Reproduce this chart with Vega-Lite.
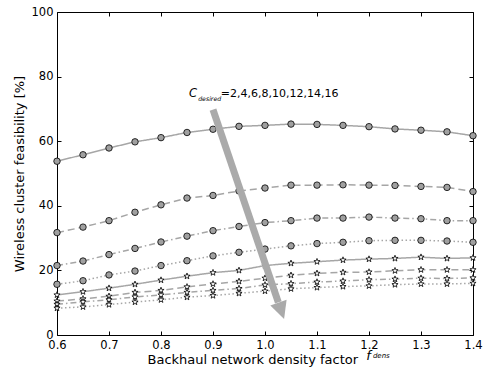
{
  "$schema": "https://vega.github.io/schema/vega-lite/v6.json",
  "width": 416,
  "height": 323,
  "autosize": "none",
  "padding": {"left": 57, "top": 12, "right": 13, "bottom": 34},
  "background": "white",
  "config": {
    "view": {"stroke": null},
    "axis": {
      "domainColor": "#000", "tickColor": "#000", "labelColor": "#000", "titleColor": "#000",
      "labelFont": "DejaVu Sans", "titleFont": "DejaVu Sans", "titleFontWeight": "normal",
      "labelFontSize": 11.5, "titleFontSize": 13, "grid": false, "tickSize": -4, "labelPadding": 8,
      "labelFlush": false, "labelOverlap": false, "labelBound": false
    },
    "text": {"font": "DejaVu Sans", "color": "#000"}
  },
  "datasets": {
    "series": [
      {"x":0.6,"C":2,"y":53.8},{"x":0.65,"C":2,"y":55.8},{"x":0.7,"C":2,"y":57.9},{"x":0.75,"C":2,"y":59.8},{"x":0.8,"C":2,"y":61.1},{"x":0.85,"C":2,"y":62.7},{"x":0.9,"C":2,"y":63.7},{"x":0.95,"C":2,"y":64.6},{"x":1.0,"C":2,"y":64.9},{"x":1.05,"C":2,"y":65.3},{"x":1.1,"C":2,"y":65.2},{"x":1.15,"C":2,"y":64.9},{"x":1.2,"C":2,"y":64.5},{"x":1.25,"C":2,"y":63.8},{"x":1.3,"C":2,"y":63.4},{"x":1.35,"C":2,"y":62.9},{"x":1.4,"C":2,"y":61.7},
      {"x":0.6,"C":4,"y":31.7},{"x":0.65,"C":4,"y":33.4},{"x":0.7,"C":4,"y":35.4},{"x":0.75,"C":4,"y":38.0},{"x":0.8,"C":4,"y":40.3},{"x":0.85,"C":4,"y":42.4},{"x":0.9,"C":4,"y":43.2},{"x":0.95,"C":4,"y":44.6},{"x":1.0,"C":4,"y":45.5},{"x":1.05,"C":4,"y":46.4},{"x":1.1,"C":4,"y":46.4},{"x":1.15,"C":4,"y":46.5},{"x":1.2,"C":4,"y":46.4},{"x":1.25,"C":4,"y":46.3},{"x":1.3,"C":4,"y":46.0},{"x":1.35,"C":4,"y":45.7},{"x":1.4,"C":4,"y":44.4},
      {"x":0.6,"C":6,"y":21.5},{"x":0.65,"C":6,"y":22.9},{"x":0.7,"C":6,"y":24.9},{"x":0.75,"C":6,"y":26.8},{"x":0.8,"C":6,"y":28.8},{"x":0.85,"C":6,"y":30.6},{"x":0.9,"C":6,"y":32.3},{"x":0.95,"C":6,"y":33.6},{"x":1.0,"C":6,"y":34.8},{"x":1.05,"C":6,"y":35.4},{"x":1.1,"C":6,"y":36.2},{"x":1.15,"C":6,"y":36.2},{"x":1.2,"C":6,"y":36.5},{"x":1.25,"C":6,"y":36.2},{"x":1.3,"C":6,"y":36.0},{"x":1.35,"C":6,"y":35.4},{"x":1.4,"C":6,"y":35.4},
      {"x":0.6,"C":8,"y":15.7},{"x":0.65,"C":8,"y":16.8},{"x":0.7,"C":8,"y":18.6},{"x":0.75,"C":8,"y":19.8},{"x":0.8,"C":8,"y":21.5},{"x":0.85,"C":8,"y":23.0},{"x":0.9,"C":8,"y":24.5},{"x":0.95,"C":8,"y":25.6},{"x":1.0,"C":8,"y":26.6},{"x":1.05,"C":8,"y":27.6},{"x":1.1,"C":8,"y":28.3},{"x":1.15,"C":8,"y":28.7},{"x":1.2,"C":8,"y":29.2},{"x":1.25,"C":8,"y":29.3},{"x":1.3,"C":8,"y":29.3},{"x":1.35,"C":8,"y":29.1},{"x":1.4,"C":8,"y":28.7},
      {"x":0.6,"C":10,"y":12.4},{"x":0.65,"C":10,"y":13.4},{"x":0.7,"C":10,"y":14.5},{"x":0.75,"C":10,"y":15.7},{"x":0.8,"C":10,"y":17.0},{"x":0.85,"C":10,"y":18.2},{"x":0.9,"C":10,"y":19.3},{"x":0.95,"C":10,"y":20.0},{"x":1.0,"C":10,"y":21.5},{"x":1.05,"C":10,"y":22.2},{"x":1.1,"C":10,"y":22.7},{"x":1.15,"C":10,"y":23.2},{"x":1.2,"C":10,"y":23.5},{"x":1.25,"C":10,"y":23.7},{"x":1.3,"C":10,"y":24.1},{"x":1.35,"C":10,"y":23.7},{"x":1.4,"C":10,"y":23.9},
      {"x":0.6,"C":12,"y":10.5},{"x":0.65,"C":12,"y":11.2},{"x":0.7,"C":12,"y":12.0},{"x":0.75,"C":12,"y":13.2},{"x":0.8,"C":12,"y":13.8},{"x":0.85,"C":12,"y":14.9},{"x":0.9,"C":12,"y":15.8},{"x":0.95,"C":12,"y":16.6},{"x":1.0,"C":12,"y":17.6},{"x":1.05,"C":12,"y":18.5},{"x":1.1,"C":12,"y":19.1},{"x":1.15,"C":12,"y":19.4},{"x":1.2,"C":12,"y":19.5},{"x":1.25,"C":12,"y":19.9},{"x":1.3,"C":12,"y":20.2},{"x":1.35,"C":12,"y":20.2},{"x":1.4,"C":12,"y":20.2},
      {"x":0.6,"C":14,"y":9.5},{"x":0.65,"C":14,"y":10.3},{"x":0.7,"C":14,"y":10.9},{"x":0.75,"C":14,"y":11.8},{"x":0.8,"C":14,"y":12.4},{"x":0.85,"C":14,"y":13.2},{"x":0.9,"C":14,"y":13.8},{"x":0.95,"C":14,"y":14.4},{"x":1.0,"C":14,"y":15.5},{"x":1.05,"C":14,"y":15.9},{"x":1.1,"C":14,"y":16.4},{"x":1.15,"C":14,"y":16.7},{"x":1.2,"C":14,"y":17.1},{"x":1.25,"C":14,"y":17.3},{"x":1.3,"C":14,"y":17.6},{"x":1.35,"C":14,"y":17.5},{"x":1.4,"C":14,"y":17.7},
      {"x":0.6,"C":16,"y":8.3},{"x":0.65,"C":16,"y":8.7},{"x":0.7,"C":16,"y":9.4},{"x":0.75,"C":16,"y":10.2},{"x":0.8,"C":16,"y":10.9},{"x":0.85,"C":16,"y":11.7},{"x":0.9,"C":16,"y":12.2},{"x":0.95,"C":16,"y":12.9},{"x":1.0,"C":16,"y":13.6},{"x":1.05,"C":16,"y":14.3},{"x":1.1,"C":16,"y":14.7},{"x":1.15,"C":16,"y":15.0},{"x":1.2,"C":16,"y":15.2},{"x":1.25,"C":16,"y":15.6},{"x":1.3,"C":16,"y":15.8},{"x":1.35,"C":16,"y":15.8},{"x":1.4,"C":16,"y":16.0}
    ]
  },
  "resolve": {"axis": {"x": "independent", "y": "independent"}},
  "layer": [
    {
      "data": {"name": "series"},
      "mark": {"type": "line", "color": "#a6a6a6", "strokeWidth": 1.5},
      "encoding": {
        "x": {"field": "x", "type": "quantitative", "scale": {"domain": [0.6, 1.4], "nice": false, "zero": false},
              "axis": {"values": [0.6,0.7,0.8,0.9,1.0,1.1,1.2,1.3,1.4], "format": ".1f", "title": "Backhaul network density factor", "titleAnchor": "start", "titleAlign": "left", "titleX": 90, "titlePadding": 3}},
        "y": {"field": "y", "type": "quantitative", "scale": {"domain": [0, 100], "nice": false, "zero": false},
              "axis": {"values": [0,20,40,60,80,100], "title": "Wireless cluster feasibility [%]", "titlePadding": 5}},
        "detail": {"field": "C", "type": "nominal"},
        "strokeDash": {"field": "C", "type": "nominal", "legend": null,
          "scale": {"domain": [2,4,6,8,10,12,14,16], "range": [[1,0],[7,4],[6,3,1.5,3],[1.5,2.5],[1,0],[7,4],[6,3,1.5,3],[1.5,2.5]]}}
      }
    },
    {
      "data": {"name": "series"},
      "mark": {"type": "point", "filled": true, "stroke": "#000", "opacity": 1},
      "encoding": {
        "x": {"field": "x", "type": "quantitative", "scale": {"domain": [0.6, 1.4], "nice": false, "zero": false}, "axis": {"orient": "top", "labels": false, "title": null, "values": [0.6,0.7,0.8,0.9,1.0,1.1,1.2,1.3,1.4]}},
        "y": {"field": "y", "type": "quantitative", "scale": {"domain": [0, 100], "nice": false, "zero": false}, "axis": {"orient": "right", "labels": false, "title": null, "values": [0,20,40,60,80,100]}},
        "shape": {"field": "C", "type": "nominal", "legend": null,
          "scale": {"domain": [2,4,6,8,10,12,14,16], "range": ["circle","circle","circle","circle",
            "M0,-1L0.235,-0.324L0.951,-0.309L0.38,0.124L0.588,0.809L0,0.4L-0.588,0.809L-0.38,0.124L-0.951,-0.309L-0.235,-0.324Z",
            "M0,-1L0.235,-0.324L0.951,-0.309L0.38,0.124L0.588,0.809L0,0.4L-0.588,0.809L-0.38,0.124L-0.951,-0.309L-0.235,-0.324Z",
            "M0,-1L0.235,-0.324L0.951,-0.309L0.38,0.124L0.588,0.809L0,0.4L-0.588,0.809L-0.38,0.124L-0.951,-0.309L-0.235,-0.324Z",
            "M0,-1L0.235,-0.324L0.951,-0.309L0.38,0.124L0.588,0.809L0,0.4L-0.588,0.809L-0.38,0.124L-0.951,-0.309L-0.235,-0.324Z"]}},
        "fill": {"field": "C", "type": "nominal", "legend": null,
          "scale": {"domain": [2,4,6,8,10,12,14,16], "range": ["#a0a0a0","#a0a0a0","#a0a0a0","#a0a0a0","#ffffff","#ffffff","#ffffff","#ffffff"]}},
        "size": {"field": "C", "type": "nominal", "legend": null,
          "scale": {"domain": [2,4,6,8,10,12,14,16], "range": [42,42,42,42,64,64,64,64]}},
        "strokeWidth": {"field": "C", "type": "nominal", "legend": null,
          "scale": {"domain": [2,4,6,8,10,12,14,16], "range": [0.8,0.8,0.8,0.8,1.2,1.2,1.2,1.2]}}
      }
    },
    {
      "data": {"values": [{"x": 0.9, "y": 69.8, "x2": 1.0256, "y2": 10.1}]},
      "mark": {"type": "rule", "color": "#aaaaaa", "strokeWidth": 7},
      "encoding": {
        "x": {"field": "x", "type": "quantitative", "scale": {"domain": [0.6, 1.4], "nice": false, "zero": false}, "axis": null},
        "y": {"field": "y", "type": "quantitative", "scale": {"domain": [0, 100], "nice": false, "zero": false}, "axis": null},
        "x2": {"field": "x2"},
        "y2": {"field": "y2"}
      }
    },
    {
      "data": {"values": [{"x": 1.0313, "y": 7.5}]},
      "mark": {"type": "point", "filled": true, "color": "#aaaaaa", "opacity": 1, "size": 296, "angle": 341, "shape": "M-1,-1L1,-1L0,1Z"},
      "encoding": {
        "x": {"field": "x", "type": "quantitative", "scale": {"domain": [0.6, 1.4], "nice": false, "zero": false}, "axis": null},
        "y": {"field": "y", "type": "quantitative", "scale": {"domain": [0, 100], "nice": false, "zero": false}, "axis": null}
      }
    },
    {
      "data": {"values": [{"x": 0.854, "y": 73.7, "t": "C"}]},
      "mark": {"type": "text", "align": "left", "baseline": "alphabetic", "fontSize": 11.5, "fontStyle": "italic"},
      "encoding": {
        "x": {"field": "x", "type": "quantitative", "scale": {"domain": [0.6, 1.4], "nice": false, "zero": false}, "axis": null},
        "y": {"field": "y", "type": "quantitative", "scale": {"domain": [0, 100], "nice": false, "zero": false}, "axis": null},
        "text": {"field": "t"}
      }
    },
    {
      "data": {"values": [{"x": 0.8715, "y": 72.6, "t": "desired"}]},
      "mark": {"type": "text", "align": "left", "baseline": "alphabetic", "fontSize": 6.2, "fontStyle": "italic"},
      "encoding": {
        "x": {"field": "x", "type": "quantitative", "scale": {"domain": [0.6, 1.4], "nice": false, "zero": false}, "axis": null},
        "y": {"field": "y", "type": "quantitative", "scale": {"domain": [0, 100], "nice": false, "zero": false}, "axis": null},
        "text": {"field": "t"}
      }
    },
    {
      "data": {"values": [{"x": 0.915, "y": 73.7, "t": "=2,4,6,8,10,12,14,16"}]},
      "mark": {"type": "text", "align": "left", "baseline": "alphabetic", "fontSize": 11},
      "encoding": {
        "x": {"field": "x", "type": "quantitative", "scale": {"domain": [0.6, 1.4], "nice": false, "zero": false}, "axis": null},
        "y": {"field": "y", "type": "quantitative", "scale": {"domain": [0, 100], "nice": false, "zero": false}, "axis": null},
        "text": {"field": "t"}
      }
    },
    {
      "data": {"values": [{"x": 1.1945, "y": -7.6, "t": "f"}]},
      "mark": {"type": "text", "align": "left", "baseline": "alphabetic", "fontSize": 13, "fontStyle": "italic"},
      "encoding": {
        "x": {"field": "x", "type": "quantitative", "scale": {"domain": [0.6, 1.4], "nice": false, "zero": false}, "axis": null},
        "y": {"field": "y", "type": "quantitative", "scale": {"domain": [0, 100], "nice": false, "zero": false}, "axis": null},
        "text": {"field": "t"}
      }
    },
    {
      "data": {"values": [{"x": 1.2075, "y": -7.0, "t": "dens"}]},
      "mark": {"type": "text", "align": "left", "baseline": "alphabetic", "fontSize": 7, "fontStyle": "italic"},
      "encoding": {
        "x": {"field": "x", "type": "quantitative", "scale": {"domain": [0.6, 1.4], "nice": false, "zero": false}, "axis": null},
        "y": {"field": "y", "type": "quantitative", "scale": {"domain": [0, 100], "nice": false, "zero": false}, "axis": null},
        "text": {"field": "t"}
      }
    }
  ]
}
